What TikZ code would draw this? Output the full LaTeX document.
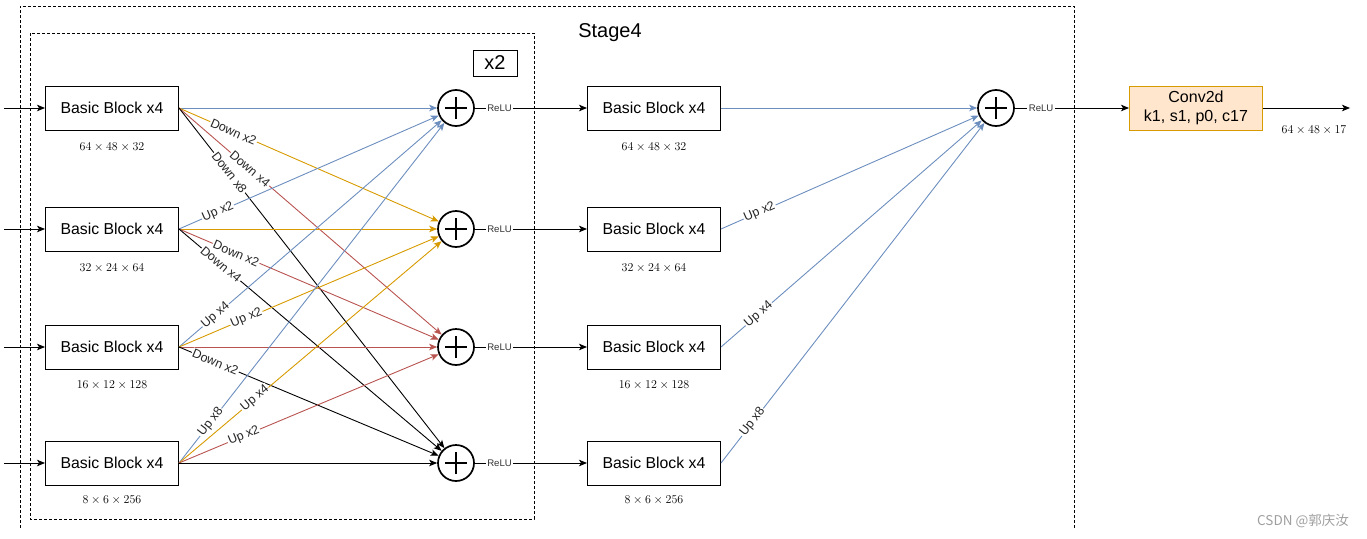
\documentclass[tikz,border=0pt]{standalone}
\usepackage[no-math]{fontspec}
\setmainfont{Liberation Sans}
\newfontfamily\cjkfont{Noto Sans CJK SC}
\usetikzlibrary{arrows.meta,positioning}
\definecolor{upblue}{HTML}{6C8EBF}
\definecolor{midorange}{HTML}{D79B00}
\definecolor{downred}{HTML}{B85450}
\definecolor{convfill}{HTML}{FFE6CC}
\tikzset{
  block/.style={draw,line width=1pt,minimum width=133pt,minimum height=44pt,font=\fontsize{15.8}{18}\selectfont},
  sumnode/.style={circle,draw,line width=1.7pt,minimum size=36pt,inner sep=0pt,
    path picture={\draw[line width=1.4pt] (path picture bounding box.center) +(-11pt,0) -- +(11pt,0)
      (path picture bounding box.center) +(0,-11pt) -- +(0,11pt);}},
  convbox/.style={draw=midorange,fill=convfill,line width=1pt,minimum width=133pt,minimum height=44pt,align=center,font=\fontsize{16}{19}\selectfont},
  dimlabel/.style={font=\fontsize{12.8}{15}\selectfont},
  edgelabel/.style={fill=white,text=black!85,sloped,inner sep=1pt,font=\fontsize{12.5}{14}\selectfont},
  relu/.style={fill=white,text=black!80,inner sep=1.5pt,font=\fontsize{9.6}{11}\selectfont},
  frame/.style={dash pattern=on 3pt off 2pt,line width=0.8pt},
  tipline/.style={->,line width=0.9pt},
  >={Stealth[length=8pt,width=6.5pt,inset=2pt]}
}
\begin{document}
\begin{tikzpicture}[x=1pt,y=-1pt]
  \useasboundingbox (0,0) rectangle (1367,538);
  % frames
  \draw[frame] (20,528) -- (20,6) -- (1074,6) -- (1074,528);% outer, open at the bottom
  \draw[frame] (30,33) rectangle (534,519);
  \node[draw,line width=0.8pt,minimum width=44pt,minimum height=26pt,font=\fontsize{20}{22}\selectfont] (rep) at (495,63) {x2};
  \node[font=\fontsize{20}{22}\selectfont] (stage) at (610,33) {Stage4};
  % left column
  \node[block] (b1) at (112,108) {Basic Block x4};
  \node[block] (b2) at (112,229) {Basic Block x4};
  \node[block] (b3) at (112,347) {Basic Block x4};
  \node[block] (b4) at (112,463) {Basic Block x4};
  \node[dimlabel,below=9pt of b1] (d1) {$64\times48\times32$};
  \node[dimlabel,below=9pt of b2] (d2) {$32\times24\times64$};
  \node[dimlabel,below=8pt of b3] (d3) {$16\times12\times128$};
  \node[dimlabel,below=7pt of b4] (d4) {$8\times6\times256$};
  \coordinate (in1) at (4,108);
  \coordinate (in2) at (4,229);
  \coordinate (in3) at (4,347);
  \coordinate (in4) at (4,463);
  \draw[tipline] (in1) -- (b1);
  \draw[tipline] (in2) -- (b2);
  \draw[tipline] (in3) -- (b3);
  \draw[tipline] (in4) -- (b4);
  % sums
  \node[sumnode] (s1) at (456,108) {};
  \node[sumnode] (s2) at (456,229) {};
  \node[sumnode] (s3) at (456,347) {};
  \node[sumnode] (s4) at (456,463) {};
  % exchange, colour = target row
  \draw[tipline,upblue] (b1.east) -- (s1);
  \draw[tipline,midorange] (b1.east) -- node[edgelabel,pos=0.21] {Down x2} (s2);
  \draw[tipline,downred] (b1.east) -- node[edgelabel,pos=0.27] {Down x4} (s3);
  \draw[tipline,black] (b1.east) -- node[edgelabel,pos=0.19] {Down x8} (s4);
  \draw[tipline,upblue] (b2.east) -- node[edgelabel,pos=0.15] {Up x2} (s1);
  \draw[tipline,midorange] (b2.east) -- (s2);
  \draw[tipline,downred] (b2.east) -- node[edgelabel,pos=0.22] {Down x2} (s3);
  \draw[tipline,black] (b2.east) -- node[edgelabel,pos=0.16] {Down x4} (s4);
  \draw[tipline,upblue] (b3.east) -- node[edgelabel,pos=0.14] {Up x4} (s1);
  \draw[tipline,midorange] (b3.east) -- node[edgelabel,pos=0.26] {Up x2} (s2);
  \draw[tipline,downred] (b3.east) -- (s3);
  \draw[tipline,black] (b3.east) -- node[edgelabel,pos=0.14] {Down x2} (s4);
  \draw[tipline,upblue] (b4.east) -- node[edgelabel,pos=0.12] {Up x8} (s1);
  \draw[tipline,midorange] (b4.east) -- node[edgelabel,pos=0.29] {Up x4} (s2);
  \draw[tipline,downred] (b4.east) -- node[edgelabel,pos=0.25] {Up x2} (s3);
  \draw[tipline,black] (b4.east) -- (s4);
  % middle column
  \node[block] (m1) at (654,108) {Basic Block x4};
  \node[block] (m2) at (654,229) {Basic Block x4};
  \node[block] (m3) at (654,347) {Basic Block x4};
  \node[block] (m4) at (654,463) {Basic Block x4};
  \node[dimlabel,below=9pt of m1] (e1) {$64\times48\times32$};
  \node[dimlabel,below=9pt of m2] (e2) {$32\times24\times64$};
  \node[dimlabel,below=8pt of m3] (e3) {$16\times12\times128$};
  \node[dimlabel,below=7pt of m4] (e4) {$8\times6\times256$};
  \draw[tipline] (s1) -- node[relu,pos=0.22] {ReLU} (m1);
  \draw[tipline] (s2) -- node[relu,pos=0.22] {ReLU} (m2);
  \draw[tipline] (s3) -- node[relu,pos=0.22] {ReLU} (m3);
  \draw[tipline] (s4) -- node[relu,pos=0.22] {ReLU} (m4);
  % final fuse
  \node[sumnode] (s5) at (996,108) {};
  \draw[tipline,upblue] (m1) -- (s5);
  \draw[tipline,upblue] (m2.east) -- node[edgelabel,pos=0.15] {Up x2} (s5);
  \draw[tipline,upblue] (m3.east) -- node[edgelabel,pos=0.145] {Up x4} (s5);
  \draw[tipline,upblue] (m4.east) -- node[edgelabel,pos=0.12] {Up x8} (s5);
  % head
  \node[convbox] (conv) at (1196,108) {Conv2d\\k1, s1, p0, c17};
  \draw[tipline] (s5) -- node[relu,pos=0.23] {ReLU} (conv);
  \coordinate (out) at (1350,108);
  \draw[tipline] (conv) -- (out);
  \node[dimlabel] (dout) at (1314,130) {$64\times48\times17$};
  \node[text=gray!75,font=\cjkfont\fontsize{13.5}{15}\selectfont] (mark) at (1303,521) {CSDN @郭庆汝};
\end{tikzpicture}
\end{document}
